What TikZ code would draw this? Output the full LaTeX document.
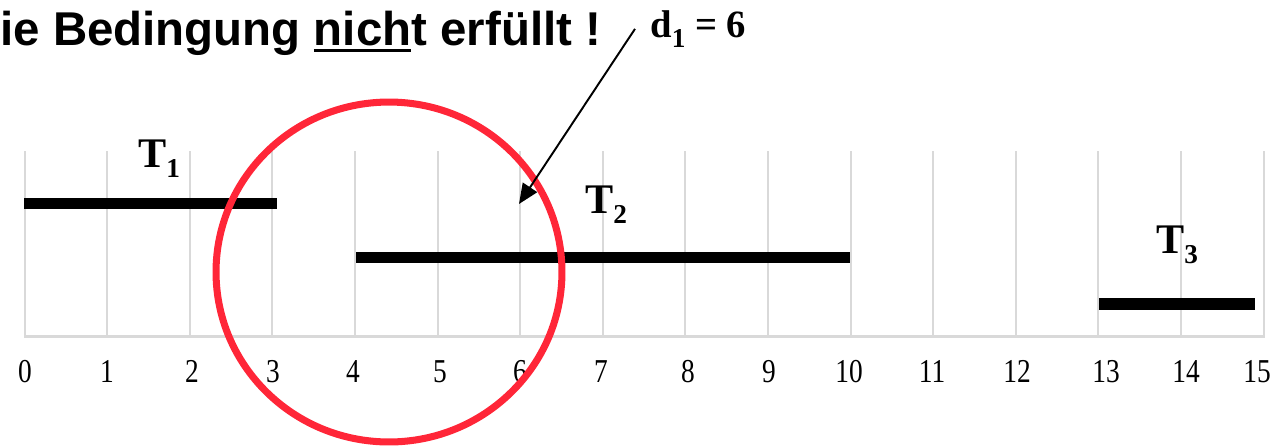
\documentclass[tikz,border=0pt]{standalone}
\usepackage{fontspec}
\setmainfont{Liberation Serif}
\newfontfamily\headfont{Liberation Sans}
\usetikzlibrary{arrows.meta}

\definecolor{ringred}{RGB}{255,38,56}
\definecolor{gridgray}{RGB}{217,217,217}

\newsavebox\ulbox
\newcommand{\lowsub}[1]{\raisebox{-6pt}{\fontsize{15.5}{15.5}\selectfont #1}}
\newcommand{\lowline}[1]{\sbox\ulbox{#1}\rlap{\rule[-0.15em]{\wd\ulbox}{0.065em}}\usebox\ulbox}

\begin{document}
\begin{tikzpicture}[
    x=0.02cm, y=-0.02cm,
    gridline/.style={draw=gridgray, line width=1.1pt},
    taskbar/.style={line width=6.8pt},
    tasklabel/.style={anchor=base west, inner sep=0pt, font=\fontsize{24}{24}\selectfont\bfseries},
    ticklabel/.style={anchor=base, inner sep=0pt, font=\fontsize{19}{19}\selectfont, xscale=0.82},
    arrow/.style={-{Triangle[length=0.4cm, width=0.34cm]}, line width=1.1pt}
]
\useasboundingbox (0,0) rectangle (1282,447);

% grid and axis
\foreach \i in {0,...,15}
    \draw [gridline] ({24.6+82.6*\i},151) -- ({24.6+82.6*\i},336);
\draw [draw=gridgray, line width=1.6pt] (24,336.5) -- (1265,336.5);
\foreach \lx [count=\n from 0] in {25,107,192,273,353,440,520,601,688,769,849,932,1017,1106,1186,1257}
    \node (tick\n) [ticklabel] at (\lx,382) {\n};

% tasks
\draw [taskbar] (24,203.5) -- (277,203.5);
\draw [taskbar] (356,257.5) -- (850,257.5);
\draw [taskbar] (1099,304) -- (1255,304);
\node (t1) [tasklabel] at (138,167) {T\lowsub{1}};
\node (t2) [tasklabel] at (585,213) {T\lowsub{2}};
\node (t3) [tasklabel] at (1156,253) {T\lowsub{3}};

\node (headline) [anchor=base west, inner sep=0pt, font=\headfont\fontsize{27}{27}\selectfont\bfseries] at (0,45) {ie Bedingung \lowline{nich}t erfüllt !};

\draw [ringred, line width=4pt] (389,272) ellipse [x radius=3.46cm, y radius=3.4cm];

\node (d1lbl) [anchor=base west, inner xsep=0.3cm, inner ysep=0pt, font=\fontsize{22}{22}\selectfont\bfseries] at (635,37) {d\lowsub{1} = 6};
\coordinate (d1tip) at (519,204);
\draw [arrow] (d1lbl.west) -- (d1tip);

\end{tikzpicture}
\end{document}
